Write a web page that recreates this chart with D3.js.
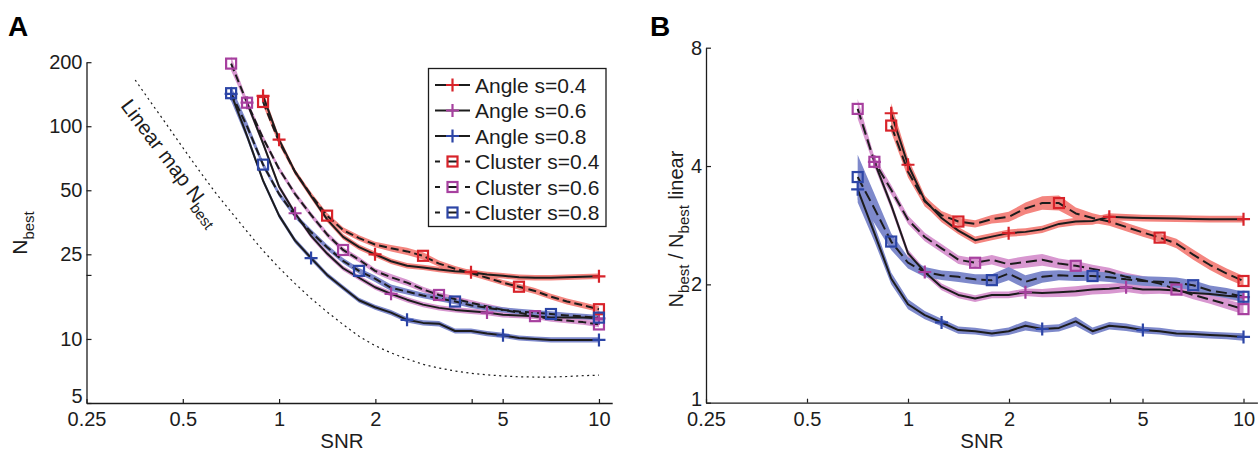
<!DOCTYPE html>
<html>
<head>
<meta charset="utf-8">
<script src="https://cdn.jsdelivr.net/npm/d3@7"></script>
<style>
  body { margin: 0; background: #fff; }
  svg { display: block; background: #fff; }
</style>
</head>
<body>
<svg id="fig" width="1258" height="452"></svg>
<script>
// ---------------------------------------------------------------------------
// Data
// ---------------------------------------------------------------------------
// SNR grid (0.5 dB steps from -1.5 dB to 10 dB)
const snr = [0.708, 0.794, 0.891, 1.0, 1.122, 1.259, 1.413, 1.585, 1.778, 1.995,
             2.239, 2.512, 2.818, 3.162, 3.548, 3.981, 4.467, 5.012, 5.623, 6.310,
             7.079, 7.943, 8.913, 10.0];

// Linear-map N_best (dotted reference curve)
const linearSnr = [0.355, 0.398, 0.447, 0.501, 0.562, 0.631, 0.708, 0.794, 0.891, 1.0,
                   1.122, 1.259, 1.413, 1.585, 1.778, 1.995, 2.239, 2.512, 2.818, 3.162,
                   3.548, 3.981, 4.467, 5.012, 5.623, 6.310, 7.079, 7.943, 8.913, 10.0];
const linearNbest = [165, 129, 101, 79, 62, 49, 39.5, 32, 26, 21.6,
                     18.2, 15.5, 13.4, 11.7, 10.3, 9.3, 8.6, 8.05, 7.6, 7.3,
                     7.07, 6.9, 6.78, 6.7, 6.64, 6.62, 6.62, 6.66, 6.72, 6.76];

// Panel A: N_best
const nBestAngle04   = [null, null, 139, 86.5, 61, 47, 36.5, 30.2, 27, 25, 23.2, 22.1, 21.7, 21.2, 20.8, 20.6, 20.1, 19.8, 19.5, 19.4, 19.4, 19.5, 19.6, 19.7];
const nBestAngle06   = [null, 129, 83, 52, 39, 30.5, 25.2, 21.5, 19.4, 17.5, 16.3, 15.3, 14.5, 14.0, 13.7, 13.5, 13.3, 13.0, 12.9, 12.8, 12.6, 12.6, 12.6, 12.5];
const nBestAngle08   = [142, 90, 55.5, 38, 29, 24, 20, 17.4, 15.2, 14.1, 13.3, 12.3, 11.9, 11.8, 10.9, 10.9, 10.6, 10.4, 10.1, 10.0, 9.9, 9.9, 9.9, 9.9];
const nBestCluster04 = [null, null, 130, 84.5, 61, 47.5, 38, 32.5, 29.8, 27.8, 26.7, 25.8, 24.6, 22.6, 21.4, 20.4, 19.4, 18.4, 17.6, 16.8, 15.8, 15.0, 14.4, 13.8];
const nBestCluster06 = [197, 129, 88, 63, 48, 38.3, 31, 26.2, 23.6, 20.9, 19.5, 18.4, 17.1, 16.1, 15.4, 14.8, 14.2, 13.7, 13.3, 12.8, 12.4, 12.2, 12.0, 11.7];
const nBestCluster08 = [143, 100, 66, 48, 38, 31.8, 27, 23.3, 20.9, 19.2, 17.4, 16.7, 16.0, 15.5, 15.0, 14.4, 14.0, 13.7, 13.45, 13.3, 13.1, 12.9, 12.75, 12.6];

// Panel A: relative error (half-width of shaded band)
const errAngle04A   = [0, 0, 0.05, 0.035, 0.03, 0.03, 0.03, 0.03, 0.03, 0.03, 0.03, 0.03, 0.03, 0.03, 0.03, 0.03, 0.03, 0.03, 0.03, 0.03, 0.03, 0.03, 0.03, 0.03];
const errAngle06A   = [0, 0.04, 0.03, 0.028, 0.028, 0.028, 0.028, 0.028, 0.028, 0.028, 0.028, 0.03, 0.03, 0.03, 0.03, 0.03, 0.03, 0.03, 0.03, 0.03, 0.03, 0.03, 0.03, 0.03];
const errAngle08A   = [0.08, 0.04, 0.03, 0.028, 0.028, 0.028, 0.028, 0.028, 0.028, 0.028, 0.03, 0.028, 0.028, 0.03, 0.028, 0.028, 0.028, 0.028, 0.028, 0.028, 0.028, 0.028, 0.028, 0.028];
const errCluster04A = [0, 0, 0.04, 0.035, 0.03, 0.03, 0.03, 0.03, 0.03, 0.03, 0.035, 0.04, 0.04, 0.035, 0.03, 0.03, 0.03, 0.03, 0.032, 0.032, 0.032, 0.032, 0.032, 0.032];
const errCluster06A = [0.08, 0.035, 0.03, 0.03, 0.03, 0.03, 0.03, 0.03, 0.03, 0.03, 0.035, 0.035, 0.03, 0.03, 0.03, 0.03, 0.03, 0.03, 0.03, 0.03, 0.03, 0.03, 0.03, 0.03];
const errCluster08A = [0.08, 0.05, 0.035, 0.03, 0.03, 0.03, 0.03, 0.03, 0.032, 0.035, 0.035, 0.032, 0.03, 0.03, 0.03, 0.03, 0.03, 0.03, 0.03, 0.03, 0.03, 0.03, 0.03, 0.03];

// Panel B: N_best / N_best linear
const ratioAngle04   = [null, null, 5.45, 4.03, 3.27, 2.95, 2.74, 2.59, 2.645, 2.70, 2.72, 2.76, 2.85, 2.89, 2.90, 2.97, 2.96, 2.95, 2.945, 2.94, 2.935, 2.93, 2.93, 2.93];
const ratioAngle06   = [null, 4.10, 3.18, 2.40, 2.15, 1.97, 1.88, 1.84, 1.88, 1.88, 1.91, 1.90, 1.91, 1.92, 1.94, 1.95, 1.966, 1.94, 1.94, 1.93, 1.90, 1.89, 1.87, 1.855];
const ratioAngle08   = [3.49, 2.70, 2.07, 1.78, 1.67, 1.60, 1.53, 1.52, 1.50, 1.52, 1.57, 1.54, 1.55, 1.61, 1.52, 1.57, 1.555, 1.53, 1.52, 1.50, 1.495, 1.486, 1.48, 1.47];
const ratioCluster04 = [null, null, 5.07, 3.87, 3.25, 3.0, 2.89, 2.85, 2.93, 2.97, 3.12, 3.22, 3.22, 3.03, 2.95, 2.89, 2.80, 2.71, 2.63, 2.54, 2.38, 2.24, 2.13, 2.04];
const ratioCluster06 = [5.59, 4.10, 3.48, 2.92, 2.64, 2.47, 2.31, 2.27, 2.31, 2.25, 2.28, 2.31, 2.26, 2.23, 2.19, 2.15, 2.09, 2.05, 2.01, 1.94, 1.88, 1.83, 1.78, 1.73];
const ratioCluster08 = [3.75, 3.12, 2.57, 2.27, 2.15, 2.11, 2.09, 2.06, 2.05, 2.13, 2.03, 2.09, 2.11, 2.10, 2.10, 2.085, 2.06, 2.04, 2.03, 2.02, 1.99, 1.93, 1.90, 1.86];

// Panel B: relative error (half-width of shaded band)
const errAngle04B   = [0, 0, 0.06, 0.04, 0.03, 0.025, 0.022, 0.022, 0.022, 0.022, 0.022, 0.022, 0.022, 0.022, 0.022, 0.022, 0.02, 0.02, 0.02, 0.02, 0.02, 0.02, 0.02, 0.02];
const errAngle06B   = [0, 0.03, 0.025, 0.022, 0.02, 0.02, 0.02, 0.02, 0.02, 0.02, 0.022, 0.025, 0.028, 0.03, 0.03, 0.03, 0.028, 0.028, 0.025, 0.025, 0.025, 0.025, 0.025, 0.025];
const errAngle08B   = [0.08, 0.05, 0.035, 0.03, 0.025, 0.022, 0.022, 0.02, 0.02, 0.022, 0.028, 0.022, 0.022, 0.028, 0.022, 0.022, 0.022, 0.02, 0.02, 0.02, 0.02, 0.02, 0.02, 0.022];
const errCluster04B = [0, 0, 0.04, 0.035, 0.03, 0.025, 0.022, 0.022, 0.025, 0.03, 0.035, 0.04, 0.045, 0.035, 0.028, 0.025, 0.025, 0.025, 0.025, 0.028, 0.03, 0.03, 0.03, 0.03];
const errCluster06B = [0.06, 0.03, 0.028, 0.025, 0.025, 0.025, 0.025, 0.025, 0.028, 0.03, 0.035, 0.035, 0.03, 0.028, 0.025, 0.025, 0.025, 0.025, 0.025, 0.025, 0.025, 0.025, 0.028, 0.03];
const errCluster08B = [0.14, 0.09, 0.05, 0.035, 0.03, 0.028, 0.03, 0.03, 0.035, 0.04, 0.04, 0.035, 0.03, 0.03, 0.028, 0.028, 0.028, 0.028, 0.03, 0.03, 0.03, 0.03, 0.03, 0.03];

// SNR values carrying a marker
const marksAngle04   = [0.891, 1.0, 1.995, 3.981, 10.0];
const marksAngle06   = [0.794, 1.122, 2.239, 4.467, 10.0];
const marksAngle08   = [0.708, 1.259, 2.512, 5.012, 10.0];
const marksCluster04 = [0.891, 1.413, 2.818, 5.623, 10.0];
const marksCluster06 = [0.708, 0.794, 1.585, 3.162, 6.310, 10.0];
const marksCluster08 = [0.708, 0.891, 1.778, 3.548, 7.079, 10.0];

const seriesLabels = ["Angle s=0.4", "Angle s=0.6", "Angle s=0.8",
                      "Cluster s=0.4", "Cluster s=0.6", "Cluster s=0.8"];

// Axis ticks
const xTickValues = [0.25, 0.5, 1, 2, 4, 5, 10];
const xTickLabels = ["0.25", "0.5", "1", "2", "", "5", "10"];
const yTickValuesA = [5, 10, 20, 25, 50, 100, 200];
const yTickLabelsA = ["5", "10", "", "25", "50", "100", "200"];
const yTickValuesB = [1, 2, 4, 8];
const yTickLabelsB = ["1", "2", "4", "8"];

// ---------------------------------------------------------------------------
// Styling
// ---------------------------------------------------------------------------
const FONT = '"Liberation Sans", Arial, Helvetica, sans-serif';
const INK = "#1c1c1c";
const RED = "#d8232a", RED_BAND = "#f4857f";
const PUR = "#a7409f", PUR_BAND = "#d897d0";
const BLU = "#2c45a6", BLU_BAND = "#7e89cb";

const series = [
  { label: seriesLabels[0], a: nBestAngle04,   b: ratioAngle04,   ea: errAngle04A,   eb: errAngle04B,   marks: marksAngle04,   color: RED, band: RED_BAND, dashed: false, marker: "plus" },
  { label: seriesLabels[1], a: nBestAngle06,   b: ratioAngle06,   ea: errAngle06A,   eb: errAngle06B,   marks: marksAngle06,   color: PUR, band: PUR_BAND, dashed: false, marker: "plus" },
  { label: seriesLabels[2], a: nBestAngle08,   b: ratioAngle08,   ea: errAngle08A,   eb: errAngle08B,   marks: marksAngle08,   color: BLU, band: BLU_BAND, dashed: false, marker: "plus" },
  { label: seriesLabels[3], a: nBestCluster04, b: ratioCluster04, ea: errCluster04A, eb: errCluster04B, marks: marksCluster04, color: RED, band: RED_BAND, dashed: true,  marker: "square" },
  { label: seriesLabels[4], a: nBestCluster06, b: ratioCluster06, ea: errCluster06A, eb: errCluster06B, marks: marksCluster06, color: PUR, band: PUR_BAND, dashed: true,  marker: "square" },
  { label: seriesLabels[5], a: nBestCluster08, b: ratioCluster08, ea: errCluster08A, eb: errCluster08B, marks: marksCluster08, color: BLU, band: BLU_BAND, dashed: true,  marker: "square" }
];

const svg = d3.select("#fig");

// Scales
const xA = d3.scaleLog().domain([0.25, 11]).range([86.5, 612.2]);
const yA = d3.scaleLog().domain([5, 200]).range([403, 62.2]);
const xB = d3.scaleLog().domain([0.25, 11]).range([706, 1257.4]);
const yB = d3.scaleLog().domain([1, 8]).range([402.7, 47.7]);

const plusPath = "M-6.5,0H6.5M0,-6.5V6.5";

function drawMarker(g, type, cx, cy, color) {
  if (type === "plus") {
    g.append("path").attr("d", plusPath)
      .attr("transform", `translate(${cx},${cy})`)
      .attr("stroke", color).attr("stroke-width", 2.2).attr("fill", "none");
  } else {
    g.append("rect").attr("x", cx - 5).attr("y", cy - 5)
      .attr("width", 10).attr("height", 10)
      .attr("stroke", color).attr("stroke-width", 2.2).attr("fill", "none");
  }
}

function drawSeries(g, x, y, key, errKey, dash) {
  const pts = s => snr.map((v, i) => ({ s: v, v: s[key][i], e: s[errKey][i] }));
  const area = d3.area()
    .defined(d => d.v != null)
    .x(d => x(d.s))
    .y0(d => y(d.v / (1 + d.e)))
    .y1(d => y(d.v * (1 + d.e)));
  const line = d3.line()
    .defined(d => d.v != null)
    .x(d => x(d.s))
    .y(d => y(d.v));

  const gb = g.append("g"), gl = g.append("g"), gm = g.append("g");
  series.forEach(s => {
    gb.append("path").datum(pts(s)).attr("d", area).attr("fill", s.band);
  });
  series.forEach(s => {
    gl.append("path").datum(pts(s)).attr("d", line)
      .attr("fill", "none").attr("stroke", INK).attr("stroke-width", 2)
      .attr("stroke-linejoin", "round")
      .attr("stroke-dasharray", s.dashed ? dash : null);
  });
  series.forEach(s => {
    s.marks.forEach(m => {
      const i = d3.minIndex(snr, v => Math.abs(v - m));
      const v = s[key][i];
      if (v != null) drawMarker(gm, s.marker, x(snr[i]), y(v), s.color);
    });
  });
}

function drawAxes(x, y, yTicks, yLabels, bottomLift) {
  const y0 = y.range()[0];
  const x0 = x.range()[0];
  const gx = svg.append("g").attr("transform", `translate(0,${y0})`)
    .call(d3.axisBottom(x).tickValues(xTickValues)
      .tickFormat((d, i) => xTickLabels[i])
      .tickSizeInner(-4).tickSizeOuter(0).tickPadding(9));
  const gy = svg.append("g").attr("transform", `translate(${x0},0)`)
    .call(d3.axisLeft(y).tickValues(yTicks)
      .tickFormat((d, i) => yLabels[i])
      .tickSizeInner(-5).tickSizeOuter(0).tickPadding(4));
  [gx, gy].forEach(g => {
    g.attr("font-family", FONT).attr("font-size", 20);
    g.select(".domain").attr("stroke", INK).attr("stroke-width", 1.3);
    g.selectAll(".tick line").attr("stroke", INK).attr("stroke-width", 1.2);
    g.selectAll(".tick text").attr("fill", INK);
  });
  // lift the lowest y label a little so it clears the first x label
  gy.selectAll(".tick text").filter(d => d === yTicks[0])
    .attr("y", -bottomLift);
}

// ---------------------------------------------------------------------------
// Panel A
// ---------------------------------------------------------------------------
const gA = svg.append("g");
gA.append("path")
  .datum(linearSnr.map((s, i) => ({ s, v: linearNbest[i] })))
  .attr("d", d3.line().x(d => xA(d.s)).y(d => yA(d.v)))
  .attr("fill", "none").attr("stroke", INK).attr("stroke-width", 1.2)
  .attr("stroke-dasharray", "2,3.5");

gA.append("text")
  .attr("transform", "translate(120,106) rotate(53)")
  .attr("font-family", FONT).attr("font-size", 20.5).attr("fill", INK)
  .text("Linear map N")
  .append("tspan").attr("dy", 6).attr("font-size", 15).text("best");

drawSeries(gA, xA, yA, "a", "ea", "8,4");
drawAxes(xA, yA, yTickValuesA, yTickLabelsA, 7);

// Legend
const leg = svg.append("g");
leg.append("rect").attr("x", 428.5).attr("y", 68.5).attr("width", 177.5).attr("height", 158)
  .attr("fill", "#fff").attr("stroke", INK).attr("stroke-width", 1.3);
series.forEach((s, i) => {
  const cy = 85 + i * 25.5;
  leg.append("line").attr("x1", 435).attr("x2", 470).attr("y1", cy).attr("y2", cy)
    .attr("stroke", INK).attr("stroke-width", 2)
    .attr("stroke-dasharray", s.dashed ? "5,7,11,7,5" : null);
  drawMarker(leg, s.marker, 452.5, cy, s.color);
  leg.append("text").attr("x", 475).attr("y", cy).attr("dy", "0.36em")
    .attr("font-family", FONT).attr("font-size", 21).attr("fill", INK)
    .text(s.label);
});

svg.append("text").attr("x", 342).attr("y", 448).attr("text-anchor", "middle")
  .attr("font-family", FONT).attr("font-size", 20.5).attr("fill", INK).text("SNR");
svg.append("text").attr("transform", "translate(27,233) rotate(-90)")
  .attr("text-anchor", "middle")
  .attr("font-family", FONT).attr("font-size", 21).attr("fill", INK)
  .call(t => {
    t.append("tspan").text("N");
    t.append("tspan").attr("dy", 7).attr("font-size", 15).text("best");
  });
svg.append("text").attr("x", 8).attr("y", 36)
  .attr("font-family", FONT).attr("font-size", 28).attr("font-weight", "bold")
  .attr("fill", "#000").text("A");

// ---------------------------------------------------------------------------
// Panel B
// ---------------------------------------------------------------------------
const gB = svg.append("g");
drawSeries(gB, xB, yB, "b", "eb", "11,5");
drawAxes(xB, yB, yTickValuesB, yTickLabelsB, 4);

svg.append("text").attr("x", 982).attr("y", 448).attr("text-anchor", "middle")
  .attr("font-family", FONT).attr("font-size", 20.5).attr("fill", INK).text("SNR");
svg.append("text").attr("transform", "translate(683,229) rotate(-90)")
  .attr("text-anchor", "middle")
  .attr("font-family", FONT).attr("font-size", 20).attr("fill", INK)
  .call(t => {
    t.append("tspan").text("N");
    t.append("tspan").attr("dy", 6).attr("font-size", 15).text("best");
    t.append("tspan").attr("dy", -6).text(" / N");
    t.append("tspan").attr("dy", 6).attr("font-size", 15).text("best");
    t.append("tspan").attr("dy", -6).text(" linear");
  });
svg.append("text").attr("x", 650).attr("y", 36)
  .attr("font-family", FONT).attr("font-size", 28).attr("font-weight", "bold")
  .attr("fill", "#000").text("B");
</script>
</body>
</html>
